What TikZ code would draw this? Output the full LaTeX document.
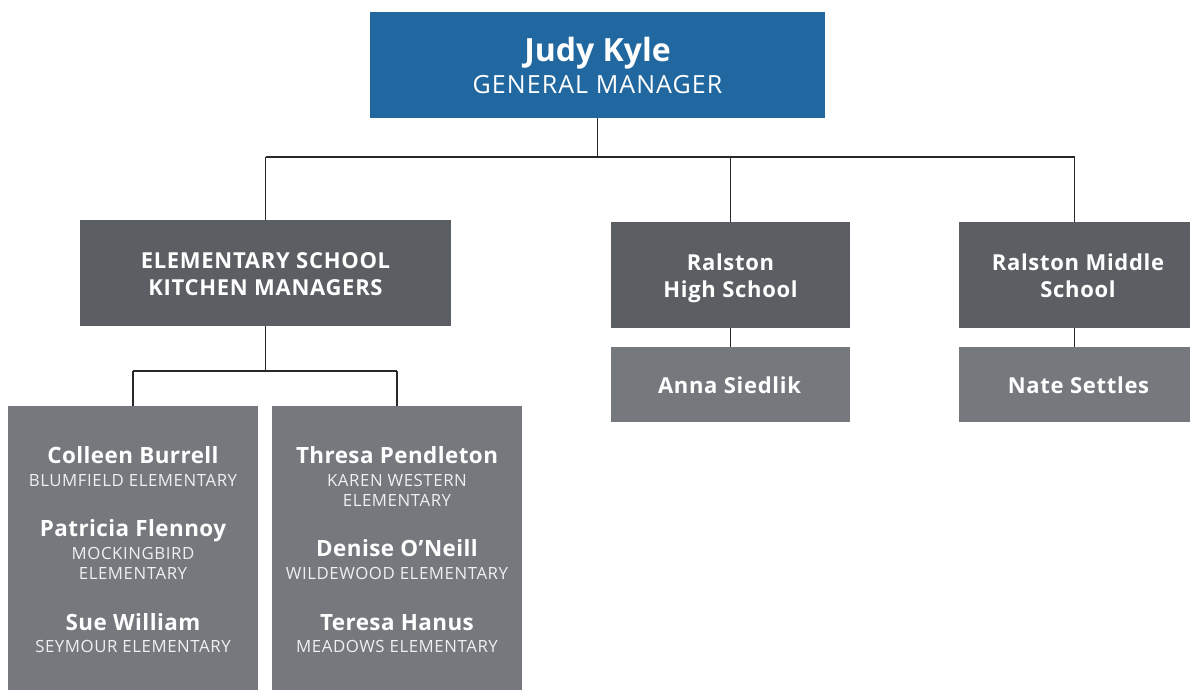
\documentclass[tikz,border=0pt]{standalone}
\usepackage{fontspec}
\setmainfont{Open Sans}
\definecolor{topblue}{RGB}{34,104,160}
\definecolor{darkbox}{RGB}{91,95,99}
\definecolor{lightbox}{RGB}{117,121,125}
\definecolor{linec}{RGB}{40,40,40}
\begin{document}
\begin{tikzpicture}[x=1pt,y=-1pt,
  box/.style={rectangle,inner sep=0pt,outer sep=0pt,draw=none},
  conn/.style={draw=linec,line width=1.6pt},
  txt/.style={anchor=base,inner sep=0pt,text=white},
  bigname/.style={txt,font=\fontsize{32}{36}\selectfont\bfseries},
  bigrole/.style={txt,font=\fontsize{25}{30}\selectfont\addfontfeature{LetterSpace=4.3}},
  headt/.style={txt,font=\fontsize{22}{26}\selectfont\bfseries\addfontfeature{LetterSpace=3.2}},
  namet/.style={txt,font=\fontsize{22.4}{26}\selectfont\bfseries\addfontfeature{LetterSpace=2}},
  schoolt/.style={txt,text=white!94!black,font=\fontsize{16.8}{20}\selectfont\addfontfeature{LetterSpace=3.4}}]
\useasboundingbox (0,0) rectangle (1190,690);
% boxes
\node[box,fill=topblue,minimum width=455pt,minimum height=106pt] (top) at (597.5,65) {};
\node[box,fill=darkbox,minimum width=371pt,minimum height=106pt] (elem) at (265.5,273) {};
\node[box,fill=darkbox,minimum width=239pt,minimum height=106pt] (hs) at (730.5,275) {};
\node[box,fill=darkbox,minimum width=231pt,minimum height=106pt] (ms) at (1074.5,275) {};
\node[box,fill=lightbox,minimum width=239pt,minimum height=75pt] (anna) at (730,384.5) {};
\node[box,fill=lightbox,minimum width=231pt,minimum height=75pt] (nate) at (1074.5,384.5) {};
\node[box,fill=lightbox,minimum width=250pt,minimum height=284pt] (left) at (133,548) {};
\node[box,fill=lightbox,minimum width=250pt,minimum height=284pt] (right) at (397,548) {};
% connectors
\coordinate (j1) at (597.5,157);
\coordinate (j2) at (265.5,371);
\draw[conn] (top.south) -- (j1);
\draw[conn] (elem.north |- j1) -- (ms.north |- j1);
\draw[conn] (elem.north |- j1) -- (elem.north);
\draw[conn] (hs.north |- j1) -- (hs.north);
\draw[conn] (ms.north |- j1) -- (ms.north);
\draw[conn] (hs.south) -- (hs.south |- anna.north);
\draw[conn] (ms.south) -- (nate.north);
\draw[conn] (elem.south) -- (j2);
\draw[conn] (left.north |- j2) -- (right.north |- j2);
\draw[conn] (left.north |- j2) -- (left.north);
\draw[conn] (right.north |- j2) -- (right.north);
% texts
\node[bigname] (t1) at (597.5,62) {Judy Kyle};
\node[bigrole] (t2) at (597.5,94) {GENERAL MANAGER};
\node[headt] (e1) at (265.5,268) {ELEMENTARY SCHOOL};
\node[headt] (e2) at (265.5,295) {KITCHEN MANAGERS};
\node[headt] (h1) at (730.5,270) {Ralston};
\node[headt] (h2) at (730.5,297) {High School};
\node[headt] (m1) at (1078,270) {Ralston Middle};
\node[headt] (m2) at (1078,297) {School};
\node[headt] (a1) at (729.5,393) {Anna Siedlik};
\node[headt] (n1) at (1078.5,393) {Nate Settles};
\node[namet] (l1) at (133,463) {Colleen Burrell};
\node[schoolt] (l1s) at (133,486) {BLUMFIELD ELEMENTARY};
\node[namet] (l2) at (133,536) {Patricia Flennoy};
\node[schoolt] (l2s) at (133,559) {MOCKINGBIRD};
\node[schoolt] (l2t) at (133,579) {ELEMENTARY};
\node[namet] (l3) at (133,630) {Sue William};
\node[schoolt] (l3s) at (133,652) {SEYMOUR ELEMENTARY};
\node[namet] (r1) at (397,463) {Thresa Pendleton};
\node[schoolt] (r1s) at (397,486) {KAREN WESTERN};
\node[schoolt] (r1t) at (397,506) {ELEMENTARY};
\node[namet] (r2) at (397,556) {Denise O’Neill};
\node[schoolt] (r2s) at (397,579) {WILDEWOOD ELEMENTARY};
\node[namet] (r3) at (397,630) {Teresa Hanus};
\node[schoolt] (r3s) at (397,652) {MEADOWS ELEMENTARY};
\end{tikzpicture}
\end{document}
